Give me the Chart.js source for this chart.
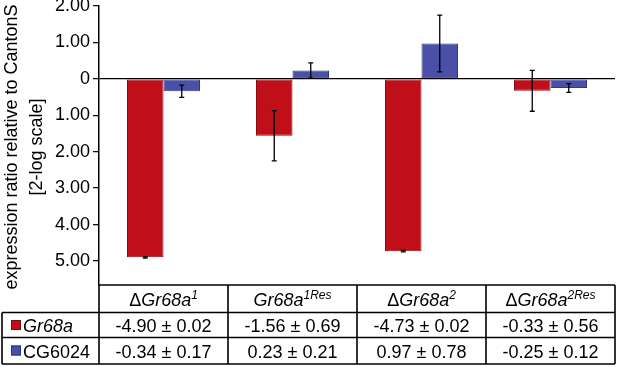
<!DOCTYPE html>
<html>
<head>
<meta charset="utf-8">
<script src="https://cdn.jsdelivr.net/npm/chart.js@4"></script>
<style>
  html, body { margin: 0; padding: 0; background: #fff; }
  #wrap { width: 617px; height: 367px; }
</style>
</head>
<body>
<div id="wrap"><canvas id="exprChart" width="617" height="367"></canvas></div>
<script>
// genotypes (column headers)
const genoDelta = [true, false, true, true];
const genoName = ['Gr68a', 'Gr68a', 'Gr68a', 'Gr68a'];
const genoSup = ['1', '1Res', '2', '2Res'];

// Gr68a expression (mean ± sem, 2-log scale)
const gr68aMean = [-4.90, -1.56, -4.73, -0.33];
const gr68aSem = [0.02, 0.69, 0.02, 0.56];

// CG6024 expression
const cg6024Mean = [-0.34, 0.23, 0.97, -0.25];
const cg6024Sem = [0.17, 0.21, 0.78, 0.12];

// y axis ticks
const yTicks = [2, 1, 0, -1, -2, -3, -4, -5];

const RED = '#c10f19';
const BLUE = '#4a50a6';
const FONT = '"Liberation Sans", Arial, sans-serif';

const labels = genoName.map((n, i) => (genoDelta[i] ? '\u0394' : '') + n + genoSup[i]);

const tablePlugin = {
    id: 'tablePlugin',
    afterDatasetsDraw(chart) {
        const ctx = chart.ctx;
        const y = chart.scales.y;
        ctx.save();
        ctx.strokeStyle = '#000';
        ctx.lineWidth = 1.3;
        // error bars
        const series = [[gr68aMean, gr68aSem], [cg6024Mean, cg6024Sem]];
        series.forEach(([mean, sem], d) => {
            chart.getDatasetMeta(d).data.forEach((bar, i) => {
                const yt = y.getPixelForValue(mean[i] + sem[i]);
                const yb = y.getPixelForValue(mean[i] - sem[i]);
                ctx.beginPath();
                ctx.moveTo(bar.x, yt); ctx.lineTo(bar.x, yb);
                ctx.moveTo(bar.x - 2.5, yt); ctx.lineTo(bar.x + 2.5, yt);
                ctx.moveTo(bar.x - 2.5, yb); ctx.lineTo(bar.x + 2.5, yb);
                ctx.stroke();
            });
        });
        ctx.restore();
    },
    afterDraw(chart) {
        const ctx = chart.ctx;
        const area = chart.chartArea;
        const x = chart.scales.x;
        const half = (x.getPixelForValue(1) - x.getPixelForValue(0)) / 2;
        const top = area.bottom;
        const r1 = top + 27.5, r2 = r1 + 25, r3 = r2 + 26.5;

        ctx.save();
        // y axis title
        ctx.fillStyle = '#000';
        ctx.font = '18px ' + FONT;
        ctx.textAlign = 'center';
        ctx.textBaseline = 'middle';
        [['expression ratio relative to CantonS', 12], ['[2-log scale]', 37]].forEach(([t, tx]) => {
            ctx.save();
            ctx.translate(tx, 147);
            ctx.rotate(-Math.PI / 2);
            ctx.fillText(t, 0, 0);
            ctx.restore();
        });

        // grid of table
        ctx.strokeStyle = '#000';
        ctx.lineWidth = 1.6;
        ctx.beginPath();
        ctx.moveTo(area.left, top); ctx.lineTo(area.right, top);
        [r1, r2, r3].forEach(ry => { ctx.moveTo(2, ry); ctx.lineTo(area.right, ry); });
        ctx.moveTo(2, r1); ctx.lineTo(2, r3);
        for (let i = 0; i <= labels.length; i++) {
            const bx = i < labels.length ? x.getPixelForValue(i) - half : x.getPixelForValue(i - 1) + half;
            ctx.moveTo(bx, top); ctx.lineTo(bx, r3);
        }
        ctx.stroke();

        // header cells
        ctx.textBaseline = 'alphabetic';
        ctx.textAlign = 'left';
        labels.forEach((_, i) => {
            const parts = [];
            if (genoDelta[i]) parts.push({ t: '\u0394', f: '18px ' + FONT, dy: 0 });
            parts.push({ t: genoName[i], f: 'italic 18px ' + FONT, dy: 0 });
            parts.push({ t: genoSup[i], f: 'italic 12px ' + FONT, dy: -7 });
            let w = 0;
            parts.forEach(p => { ctx.font = p.f; p.w = ctx.measureText(p.t).width; w += p.w; });
            let cx = x.getPixelForValue(i) - w / 2;
            parts.forEach(p => {
                ctx.font = p.f;
                ctx.fillText(p.t, cx, top + 21 + p.dy);
                cx += p.w;
            });
        });

        // value rows
        const rows = [
            { name: 'Gr68a', italic: true, color: RED, edge: '#7a0a10', mean: gr68aMean, sem: gr68aSem, base: r1 + 19.5 },
            { name: 'CG6024', italic: false, color: BLUE, edge: '#2a3380', mean: cg6024Mean, sem: cg6024Sem, base: r2 + 20 }
        ];
        rows.forEach(row => {
            ctx.fillStyle = row.color;
            ctx.fillRect(11, row.base - 12, 10, 10);
            ctx.lineWidth = 1;
            ctx.strokeStyle = row.edge;
            ctx.strokeRect(11.5, row.base - 11.5, 9, 9);
            ctx.fillStyle = '#000';
            ctx.textAlign = 'left';
            ctx.font = (row.italic ? 'italic ' : '') + '18px ' + FONT;
            ctx.fillText(row.name, 23, row.base);
            ctx.textAlign = 'center';
            ctx.font = '18px ' + FONT;
            row.mean.forEach((m, i) => {
                ctx.fillText(m.toFixed(2) + ' \u00b1 ' + row.sem[i].toFixed(2), x.getPixelForValue(i), row.base);
            });
        });
        ctx.restore();
    }
};

new Chart(document.getElementById('exprChart').getContext('2d'), {
    type: 'bar',
    data: {
        labels: labels,
        datasets: [{
            label: 'Gr68a',
            data: gr68aMean,
            backgroundColor: RED,
            borderColor: '#8a0b12',
            borderWidth: 1,
            borderSkipped: false,
        }, {
            label: 'CG6024',
            data: cg6024Mean,
            backgroundColor: BLUE,
            borderColor: '#2f3888',
            borderWidth: 1,
            borderSkipped: false,
        }]
    },
    options: {
        responsive: false,
        animation: false,
        layout: { padding: { top: 6, right: 2, bottom: 82, left: 0 } },
        categoryPercentage: 0.566,
        barPercentage: 1,
        plugins: { legend: { display: false }, tooltip: { enabled: false } },
        scales: {
            x: { display: false },
            y: {
                min: -5.66,
                max: 2,
                afterBuildTicks: s => { s.ticks = yTicks.map(v => ({ value: v })); },
                afterFit: s => { s.width = 99; s.paddingTop = 0; s.paddingBottom = 0; },
                border: { display: true, color: '#000', width: 1.5 },
                grid: {
                    drawOnChartArea: true,
                    color: c => (c.tick && c.tick.value === 0 ? '#000' : 'rgba(0,0,0,0)'),
                    lineWidth: 1.3,
                    tickColor: '#000',
                    tickLength: 6,
                    tickWidth: 1.2,
                },
                ticks: {
                    color: '#000',
                    padding: 3,
                    font: { family: FONT, size: 18 },
                    callback: v => (v === 0 ? '0' : Math.abs(v).toFixed(2)),
                },
            },
        },
    },
    plugins: [tablePlugin]
});
</script>
</body>
</html>
